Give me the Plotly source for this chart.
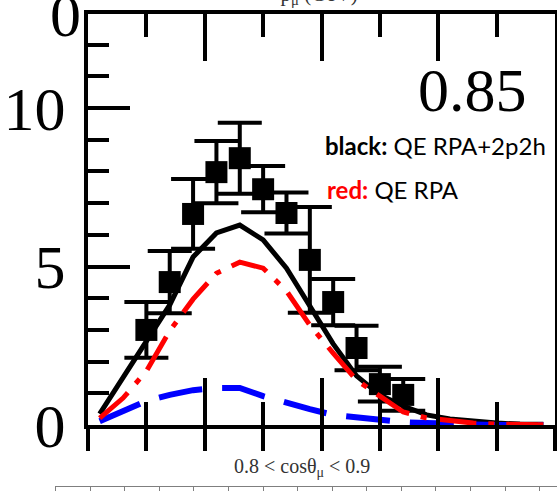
import plotly.graph_objects as go

# ---------------- data ----------------
# measured points (p_mu bin centres, GeV) and cross-section values
data_x = [0.25, 0.35, 0.45, 0.55, 0.65, 0.75, 0.85, 0.95, 1.05, 1.15, 1.25, 1.35]
data_y = [3.00, 4.51, 6.66, 7.98, 8.42, 7.44, 6.69, 5.21, 3.88, 2.43, 1.29, 0.95]
data_err = [0.88, 0.98, 1.10, 0.98, 1.12, 0.73, 0.65, 1.67, 0.73, 0.70, 0.55, 0.50]

# model curves
curve_x = [0.05, 0.15, 0.25, 0.35, 0.45, 0.55, 0.65, 0.75, 0.85, 0.95,
           1.05, 1.15, 1.25, 1.35, 1.45, 1.55, 1.65, 1.75, 1.85, 1.95]
qe_rpa_2p2h = [0.35, 1.48, 2.59, 3.79, 5.30, 6.06, 6.31, 5.84, 4.95, 3.72,
               2.56, 1.55, 0.95, 0.60, 0.32, 0.19, 0.11, 0.06, 0.03, 0.02]
qe_rpa = [0.22, 0.85, 1.70, 2.97, 3.97, 4.79, 5.14, 4.95, 4.23, 3.15,
          2.27, 1.42, 0.91, 0.41, 0.22, 0.13, 0.06, 0.03, 0.015, 0.01]
two_p2h = [0.12, 0.44, 0.76, 0.95, 1.10, 1.17, 1.17, 0.91, 0.69, 0.50,
           0.32, 0.24, 0.16, 0.09, 0.06, 0.03, 0.01, 0.0, 0.0, 0.0]

y_range = [0, 12.97]
y_tickvals = [0, 5, 10]
y_ticktext = ["0", "5", "10"]
# label of the panel above, visible at this panel's top edge
top_tickvals = [12.97]
top_ticktext = ["0"]
top_title_pos = [0.99]
top_title_text = ["p<sub>μ</sub> (GeV)"]

bin_label = "0.85"
range_label = "0.8 < cosθ<sub>μ</sub> < 0.9"
legend_black = "<b>black:</b> QE RPA+2p2h"
legend_red = "<b><span style='color:#ff0000'>red:</span></b> QE RPA"

# ---------------- figure ----------------
W, H = 557, 491
SERIF = "Liberation Serif, Times New Roman, serif"
SANS = "Lato, Carlito, Calibri, sans-serif"
BIG = 62

fig = go.Figure()

fig.add_trace(go.Scatter(
    x=data_x, y=data_y, mode="markers",
    marker=dict(symbol="square", size=22, color="black", line=dict(width=0)),
    error_y=dict(type="data", array=data_err, visible=True,
                 color="black", thickness=4, width=22),
    showlegend=False, xaxis="x", yaxis="y"))

fig.add_trace(go.Scatter(
    x=curve_x, y=two_p2h, mode="lines",
    line=dict(color="#0000ff", width=6, dash="44px,20px"),
    showlegend=False, xaxis="x3", yaxis="y"))

fig.add_trace(go.Scatter(
    x=curve_x, y=qe_rpa, mode="lines",
    line=dict(color="#ff0000", width=5, dash="38px,12px,6px,12px"),
    showlegend=False, xaxis="x4", yaxis="y3"))

fig.add_trace(go.Scatter(
    x=curve_x, y=qe_rpa_2p2h, mode="lines",
    line=dict(color="black", width=5),
    showlegend=False, xaxis="x", yaxis="y"))

# empty trace so that the ruler subplot of the panel below exists
fig.add_trace(go.Scatter(x=[], y=[], mode="lines", showlegend=False,
                         xaxis="x2", yaxis="y2", hoverinfo="skip"))

x_dom = [88 / W, 555 / W]
y_dom = [1 - 425 / H, 1 - 14 / H]

fig.update_layout(
    width=W, height=H,
    margin=dict(l=0, r=0, t=0, b=0, autoexpand=False),
    paper_bgcolor="white", plot_bgcolor="white",
    showlegend=False,
    xaxis=dict(
        domain=x_dom, anchor="y", range=[0, 2], automargin=False,
        showline=True, linewidth=4, linecolor="black", mirror="ticks",
        ticks="inside", ticklen=47, tickwidth=4, tickcolor="black",
        tick0=0, dtick=0.5,
        minor=dict(ticks="inside", ticklen=23, tickwidth=4, tickcolor="black", dtick=0.25, tick0=0),
        showticklabels=False, showgrid=False, zeroline=False),
    xaxis3=dict(
        overlaying="x", anchor="y", side="bottom", range=[0, 2], automargin=False,
        showline=False, ticks="outside", ticklen=25, tickwidth=4, tickcolor="black",
        tick0=0, dtick=0.25, showticklabels=False, showgrid=False, zeroline=False),
    xaxis4=dict(
        overlaying="x", anchor="y", side="top", range=[0, 2], automargin=False,
        showline=False, ticks="", tickmode="array",
        tickvals=top_title_pos, ticktext=top_title_text,
        tickfont=dict(family=SERIF, size=21, color="#333333"),
        ticklabelstandoff=8, ticklabeloverflow="allow",
        showgrid=False, zeroline=False),
    yaxis=dict(
        domain=y_dom, anchor="x", range=y_range, automargin=False,
        showline=True, linewidth=4, linecolor="black", mirror=True,
        ticks="inside", ticklen=42, tickwidth=4, tickcolor="black",
        tickmode="array", tickvals=y_tickvals, ticktext=y_ticktext,
        minor=dict(ticks="inside", ticklen=21, tickwidth=4, tickcolor="black", dtick=1, tick0=0),
        tickfont=dict(family=SERIF, size=BIG, color="black"),
        ticklabelstandoff=6, ticklabeloverflow="allow",
        showgrid=False, zeroline=False),
    yaxis3=dict(
        overlaying="y", anchor="x", side="left", range=y_range, automargin=False,
        showline=False, ticks="", tickmode="array",
        tickvals=top_tickvals, ticktext=top_ticktext,
        tickfont=dict(family=SERIF, size=BIG, color="black"),
        ticklabelstandoff=6, ticklabeloverflow="allow",
        showgrid=False, zeroline=False),
    # ruler of the panel below
    xaxis2=dict(
        domain=[55 / W, 1], anchor="y2", range=[-1.02, 13.5], automargin=False,
        showline=True, linewidth=1, linecolor="#7f7f7f",
        ticks="outside", ticklen=8, tickwidth=1, tickcolor="#7f7f7f",
        tick0=0, dtick=1, showticklabels=False, showgrid=False, zeroline=False),
    yaxis2=dict(domain=[1 - 486 / H, 1 - 480 / H], anchor="x2", visible=False,
                automargin=False),
)

ann = []
ann.append(dict(x=472 / W, y=1 - 90 / H, xref="paper", yref="paper", text=bin_label,
                showarrow=False, xanchor="center", yanchor="middle",
                font=dict(family=SERIF, size=BIG, color="black")))
ann.append(dict(x=323 / W, y=1 - 145 / H, xref="paper", yref="paper", text=legend_black,
                showarrow=False, xanchor="left", yanchor="middle",
                font=dict(family=SANS, size=24, color="black")))
ann.append(dict(x=325 / W, y=1 - 190 / H, xref="paper", yref="paper", text=legend_red,
                showarrow=False, xanchor="left", yanchor="middle",
                font=dict(family=SANS, size=24, color="black")))
ann.append(dict(x=302 / W, y=1 - 467 / H, xref="paper", yref="paper", text=range_label,
                showarrow=False, xanchor="center", yanchor="middle",
                font=dict(family=SERIF, size=20, color="#333333")))
fig.update_layout(annotations=ann)

fig.write_html("out.html")
